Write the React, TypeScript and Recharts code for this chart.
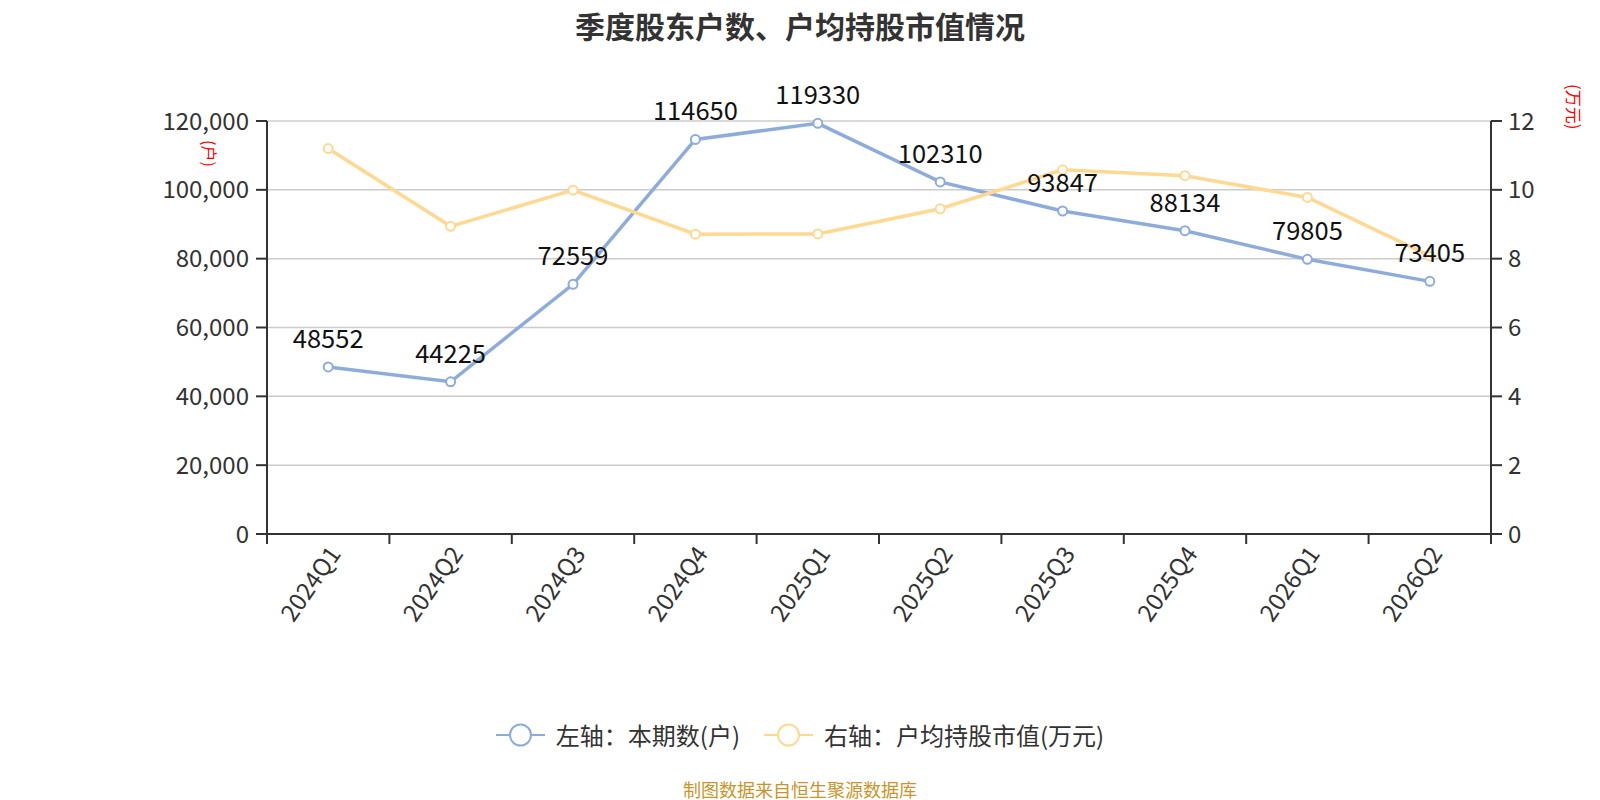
import React from 'react';
import { LineChart, Line, XAxis, YAxis, CartesianGrid, LabelList } from 'recharts';

const quarters = ['2024Q1', '2024Q2', '2024Q3', '2024Q4', '2025Q1', '2025Q2', '2025Q3', '2025Q4', '2026Q1', '2026Q2'];
const holders = [48552, 44225, 72559, 114650, 119330, 102310, 93847, 88134, 79805, 73405];
const avgValue = [11.2, 8.94, 9.99, 8.71, 8.72, 9.45, 10.58, 10.41, 9.78, 8.08];
const leftTicks = [0, 20000, 40000, 60000, 80000, 100000, 120000];
const rightTicks = [0, 2, 4, 6, 8, 10, 12];

const BLUE = '#8eacdb';
const YELLOW = '#ffd892';
const FONT = '"Noto Sans CJK SC", "Noto Sans", sans-serif';
const HALF_BAND = 61.2;

const data = quarters.map((q, i) => ({ q, holders: holders[i], avg: avgValue[i] }));

const HollowDot = (color: string) => (props: any) => {
  const { cx, cy, index } = props;
  if (cx == null || cy == null) return null;
  return <circle key={index} cx={cx} cy={cy} r={4.5} fill="#fff" stroke={color} strokeWidth={2} />;
};

// ticks sit on the band edges, labels rotated under the band centre
const QuarterTick = (props: any) => {
  const { x, y, payload, index } = props;
  const last = index === quarters.length - 1;
  return (
    <g>
      <line x1={x - HALF_BAND} y1={y} x2={x - HALF_BAND} y2={y + 10} stroke="#333" strokeWidth={2} />
      {last && <line x1={x + HALF_BAND} y1={y} x2={x + HALF_BAND} y2={y + 10} stroke="#333" strokeWidth={2} />}
      <text
        x={0}
        y={0}
        textAnchor="end"
        dominantBaseline="central"
        fontSize={24}
        fill="#333"
        fontFamily={FONT}
        transform={`translate(${x + 5},${y + 14}) rotate(-55)`}
      >
        {payload.value}
      </text>
    </g>
  );
};

const ValueLabel = (props: any) => {
  const { x, y, value } = props;
  return (
    <text x={x} y={y - 19} textAnchor="middle" fontSize={25.5} fill="#111" fontFamily={FONT}>
      {value}
    </text>
  );
};

const LegendIcon = ({ color }: { color: string }) => (
  <svg width={49} height={26} style={{ verticalAlign: 'middle' }}>
    <line x1={0} y1={13} x2={49} y2={13} stroke={color} strokeWidth={2} />
    <circle cx={24.5} cy={13} r={10.5} fill="#fff" stroke={color} strokeWidth={2} />
  </svg>
);

export default function App() {
  return (
    <div style={{ position: 'relative', width: 1600, height: 800, fontFamily: FONT, background: '#fff' }}>
      <style>{`body{margin:0}`}</style>
      <div style={{ position: 'absolute', top: 3, left: 0, width: 1600, textAlign: 'center', fontSize: 30, fontWeight: 'bold', color: '#333' }}>
        季度股东户数、户均持股市值情况
      </div>
      <LineChart width={1600} height={800} data={data} margin={{ top: 121, right: 0, bottom: 0, left: 0 }}>
        <CartesianGrid vertical={false} stroke="#ccc" strokeWidth={1.5} yAxisId="left" />
        <XAxis
          dataKey="q"
          padding={{ left: HALF_BAND, right: HALF_BAND }}
          height={266}
          interval={0}
          tickSize={0}
          tickMargin={0}
          tick={<QuarterTick />}
          axisLine={{ stroke: '#333', strokeWidth: 2 }}
        />
        <YAxis
          yAxisId="left"
          width={267}
          domain={[0, 120000]}
          ticks={leftTicks}
          interval={0}
          tickFormatter={(v: number) => v.toLocaleString('en-US')}
          tick={{ fontSize: 24, fill: '#333', fontFamily: FONT }}
          tickSize={11}
          tickMargin={7}
          tickLine={{ stroke: '#333', strokeWidth: 2 }}
          axisLine={{ stroke: '#333', strokeWidth: 2 }}
        />
        <YAxis
          yAxisId="right"
          orientation="right"
          width={109}
          domain={[0, 12]}
          ticks={rightTicks}
          interval={0}
          tick={{ fontSize: 24, fill: '#333', fontFamily: FONT }}
          tickSize={11}
          tickMargin={6}
          tickLine={{ stroke: '#333', strokeWidth: 2 }}
          axisLine={{ stroke: '#333', strokeWidth: 2 }}
        />
        <Line
          yAxisId="left"
          dataKey="holders"
          stroke={BLUE}
          strokeWidth={3.5}
          dot={HollowDot(BLUE)}
          activeDot={false}
          isAnimationActive={false}
        >
          <LabelList dataKey="holders" content={<ValueLabel />} />
        </Line>
        <Line
          yAxisId="right"
          dataKey="avg"
          stroke={YELLOW}
          strokeWidth={3.5}
          dot={HollowDot(YELLOW)}
          activeDot={false}
          isAnimationActive={false}
        />
      </LineChart>
      <div style={{ position: 'absolute', left: 204, top: 140, fontSize: 16, color: 'red', transform: 'rotate(90deg)', transformOrigin: 'left top', whiteSpace: 'nowrap', marginLeft: 18 }}>
        (户)
      </div>
      <div style={{ position: 'absolute', left: 1568, top: 84, fontSize: 17, color: 'red', transform: 'rotate(90deg)', transformOrigin: 'left top', whiteSpace: 'nowrap', marginLeft: 19 }}>
        (万元)
      </div>
      <div style={{ position: 'absolute', top: 717, left: 0, width: 1600, display: 'flex', justifyContent: 'center', alignItems: 'center', fontSize: 24, color: '#333' }}>
        <LegendIcon color={BLUE} />
        <span style={{ marginLeft: 11, marginRight: 24 }}>左轴：本期数(户)</span>
        <LegendIcon color={YELLOW} />
        <span style={{ marginLeft: 11 }}>右轴：户均持股市值(万元)</span>
      </div>
      <div style={{ position: 'absolute', top: 776, left: 0, width: 1600, textAlign: 'center', fontSize: 18, color: '#c8952c' }}>
        制图数据来自恒生聚源数据库
      </div>
    </div>
  );
}
